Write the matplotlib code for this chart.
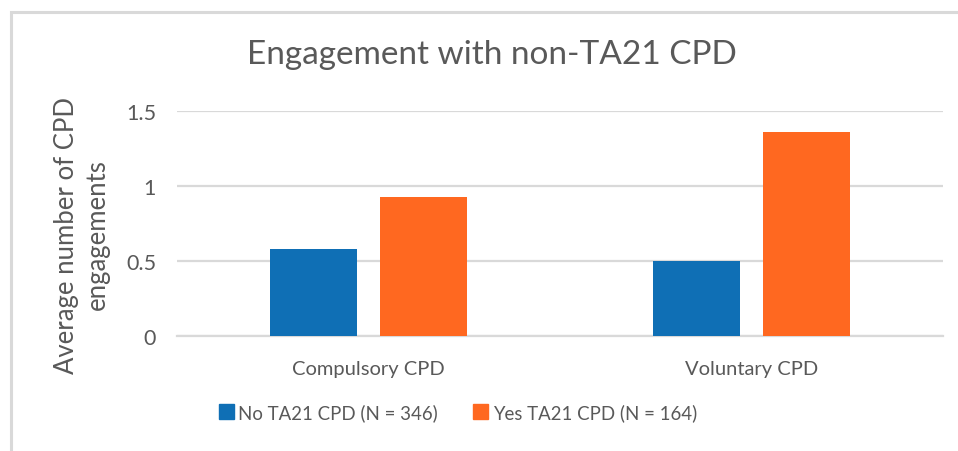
"""Engagement with non-TA21 CPD -- clustered bar chart."""

import matplotlib
matplotlib.use("Agg")
import matplotlib.pyplot as plt
import numpy as np
from matplotlib.patches import Patch, Rectangle

categories = ["Compulsory CPD", "Voluntary CPD"]
series_names = ["No TA21 CPD (N = 346)", "Yes TA21 CPD (N = 164)"]
no_ta21 = [0.58, 0.50]
yes_ta21 = [0.93, 1.36]
yticks = [0, 0.5, 1, 1.5]
ytick_labels = ["0", "0.5", "1", "1.5"]

BLUE = "#0F6FB5"
ORANGE = "#FF6820"
GREY_TEXT = "#595959"
GRID = "#D9D9D9"

plt.rcParams["font.family"] = ["Lato", "DejaVu Sans"]

W, H = 958, 452
fig = plt.figure(figsize=(W / 100, H / 100), dpi=100)

# outer chart frame (cut off on the right and bottom)
fig.patches.append(Rectangle((11 / W, -0.1), 1.2, 1.1 - 13.5 / H,
                             transform=fig.transFigure, fill=False,
                             edgecolor=GRID, lw=2.2))

ax = fig.add_axes([177 / W, 1 - 337 / H, 766 / W, 225 / H])
x = np.arange(len(categories))
bw = 0.227
off = bw / 2 + 0.03
ax.bar(x - off, no_ta21, bw, color=BLUE, zorder=3)
ax.bar(x + off, yes_ta21, bw, color=ORANGE, zorder=3)

ax.set_xlim(-0.5, len(categories) - 0.5)
ax.set_ylim(0, 1.5)
ax.set_yticks(yticks)
ax.set_yticklabels(ytick_labels)
ax.set_xticks(x)
ax.set_xticklabels(categories)
ax.yaxis.grid(True, color=GRID, lw=1.6, zorder=0)
ax.set_axisbelow(True)
ax.axhline(0, color=GRID, lw=1.6, zorder=1, clip_on=False)
for s in ax.spines.values():
    s.set_visible(False)
ax.tick_params(axis="both", length=0, colors=GREY_TEXT)
ax.tick_params(axis="y", pad=15, labelsize=15.5)
ax.tick_params(axis="x", pad=17, labelsize=14.5)

fig.text(492 / W, 1 - 55 / H, "Engagement with non-TA21 CPD",
         ha="center", va="center", fontsize=24, color=GREY_TEXT)
fig.text(82 / W, 1 - 235 / H, "Average number of CPD\nengagements",
         rotation=90, ha="center", va="center", multialignment="center",
         fontsize=18.5, color=GREY_TEXT, linespacing=1.3)

handles = [Patch(color=BLUE), Patch(color=ORANGE)]
fig.legend(handles, series_names, loc="center",
           bbox_to_anchor=(458 / W, 1 - 413 / H), ncol=2, frameon=False,
           fontsize=13.4, labelcolor=GREY_TEXT, handlelength=0.8,
           handleheight=0.8, handletextpad=0.25, columnspacing=1.9)

fig.savefig("out.png", dpi=100)
